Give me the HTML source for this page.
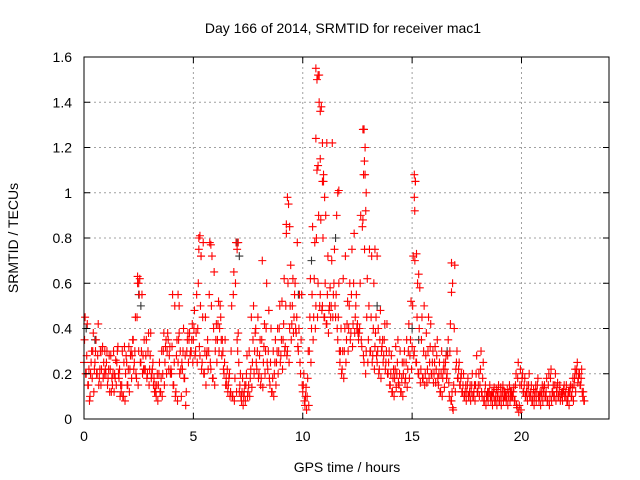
<!DOCTYPE html>
<html><head><meta charset="utf-8"><style>
html,body{margin:0;padding:0;background:#fff;}
svg{display:block;font-family:"Liberation Sans",sans-serif;}
</style></head><body>
<svg id="chart" width="640" height="480">
<text x="343" y="33" font-size="14" text-anchor="middle">Day 166 of 2014, SRMTID for receiver mac1</text>
<text x="347" y="472" font-size="14" text-anchor="middle">GPS time / hours</text>
<text transform="translate(18,238) rotate(-90)" font-size="14" text-anchor="middle">SRMTID / TECUs</text>
<g id="grid"></g><g id="marks"></g><g id="axes"></g>
</svg>
<script>
const xTicks=[0,5,10,15,20];
const yTicks=[0,0.2,0.4,0.6,0.8,1,1.2,1.4,1.6];
const yTickLabels=["0","0.2","0.4","0.6","0.8","1","1.2","1.4","1.6"];
const timeStep=0.1;
const seriesA=[0.25,0.2,0.15,0.2,0.3,0.25,0.2,0.18,0.22,0.25,
0.2,0.18,0.22,0.15,0.2,0.25,0.18,0.12,0.1,0.2,
0.15,0.22,0.28,0.25,0.18,0.3,0.25,0.28,0.22,0.2,
0.22,0.2,0.18,0.1,0.15,0.12,0.2,0.25,0.3,0.28,
0.2,0.15,0.12,0.25,0.3,0.22,0.18,0.3,0.35,0.3,
0.35,0.3,0.4,0.28,0.25,0.2,0.28,0.3,0.22,0.18,
0.3,0.35,0.4,0.28,0.2,0.18,0.15,0.12,0.1,0.18,
0.35,0.12,0.08,0.1,0.15,0.12,0.18,0.25,0.3,0.22,
0.2,0.18,0.25,0.3,0.22,0.15,0.12,0.2,0.25,0.3,
0.28,0.35,0.32,0.3,0.4,0.42,0.45,0.38,0.3,0.2,
0.12,0.06,0.1,0.3,0.4,0.45,0.5,0.6,0.55,0.5,
0.45,0.42,0.48,0.5,0.55,0.45,0.35,0.25,0.22,0.3,
0.35,0.4,0.38,0.42,0.45,0.42,0.4,0.32,0.25,0.3,
0.35,0.3,0.28,0.32,0.25,0.22,0.3,0.28,0.25,0.2,
0.15,0.12,0.18,0.2,0.15,0.12,0.2,0.18,0.22,0.28,
0.32,0.3,0.25,0.2,0.22,0.18,0.2,0.22,0.25,0.2,
0.2,0.22,0.15,0.12,0.18,0.22,0.2,0.1,0.08,0.15,
0.22,0.18,0.15,0.12,0.1,0.12,0.1,0.12,0.1,0.15,
0.12,0.15,0.1,0.08,0.1,0.12,0.08,0.1,0.08,0.1,
0.08,0.1,0.12,0.08,0.1,0.12,0.1,0.08,0.05,0.06,
0.15,0.12,0.1,0.12,0.1,0.08,0.1,0.12,0.08,0.1,
0.12,0.1,0.08,0.1,0.12,0.1,0.12,0.1,0.1,0.12,
0.1,0.08,0.12,0.1,0.15,0.2,0.18,0.15,0.1];
const seriesB=[0.45,0.42,0.08,0.3,0.12,0.35,0.42,0.3,0.32,0.3,
0.3,0.28,0.12,0.3,0.26,0.32,0.1,0.3,0.32,0.25,
0.32,0.3,0.35,0.45,0.6,0.62,0.55,0.35,0.35,0.38,
0.38,0.25,0.15,0.2,0.25,0.3,0.38,0.35,0.35,0.2,
0.55,0.5,0.35,0.38,0.1,0.4,0.06,0.38,0.28,0.42,
0.48,0.55,0.8,0.72,0.78,0.45,0.35,0.78,0.72,0.65,
0.42,0.52,0.45,0.3,0.35,0.22,0.2,0.5,0.65,0.78,
0.38,0.2,0.18,0.15,0.28,0.3,0.45,0.5,0.4,0.45,
0.35,0.7,0.42,0.6,0.48,0.4,0.3,0.35,0.4,0.5,
0.52,0.62,0.82,0.95,0.68,0.62,0.6,0.78,0.55,0.55,
0.2,0.14,0.3,0.62,0.85,0.78,1.1,1.52,1.38,1.05,
0.9,0.72,0.58,1.22,0.75,0.9,0.6,0.4,0.62,0.72,
0.52,0.6,0.75,0.82,0.55,0.35,0.9,1.28,1.08,0.62,
0.75,0.72,0.6,0.45,0.4,0.48,0.35,0.42,0.42,0.3,
0.28,0.22,0.32,0.35,0.3,0.25,0.3,0.35,0.42,0.52,
0.72,1.05,0.6,0.58,0.45,0.5,0.38,0.45,0.42,0.3,
0.32,0.35,0.25,0.3,0.25,0.28,0.35,0.42,0.05,0.68,
0.3,0.25,0.2,0.2,0.15,0.18,0.15,0.2,0.15,0.28,
0.2,0.3,0.25,0.15,0.12,0.15,0.12,0.14,0.13,0.15,
0.14,0.15,0.12,0.13,0.15,0.12,0.14,0.2,0.25,0.22,
0.2,0.18,0.15,0.2,0.15,0.13,0.15,0.18,0.12,0.15,
0.15,0.18,0.2,0.22,0.15,0.2,0.16,0.15,0.12,0.15,
0.15,0.12,0.15,0.18,0.22,0.25,0.2,0.22,0.08];
const seriesC=[0.35,0.28,0.22,0.25,0.38,0.3,0.28,0.22,0.3,0.2,
0.25,0.22,0.28,0.2,0.18,0.3,0.22,0.15,0.25,0.28,
0.22,0.28,0.35,0.3,0.45,0.55,0.3,0.22,0.28,0.3,
0.28,0.22,0.12,0.15,0.2,0.18,0.3,0.32,0.38,0.32,
0.32,0.25,0.28,0.35,0.22,0.3,0.28,0.35,0.38,0.35,
0.4,0.38,0.6,0.5,0.45,0.3,0.3,0.55,0.5,0.4,
0.35,0.42,0.5,0.35,0.25,0.15,0.18,0.3,0.55,0.6,
0.3,0.15,0.12,0.12,0.2,0.15,0.22,0.35,0.38,0.3,
0.28,0.35,0.32,0.4,0.3,0.25,0.18,0.25,0.3,0.4,
0.35,0.42,0.5,0.6,0.5,0.5,0.55,0.45,0.4,0.35,
0.15,0.1,0.18,0.45,0.55,0.62,0.8,0.9,0.88,0.8,
0.6,0.55,0.5,0.7,0.6,0.55,0.45,0.3,0.3,0.4,
0.42,0.5,0.55,0.6,0.5,0.38,0.6,0.85,0.75,0.45,
0.5,0.45,0.4,0.38,0.3,0.35,0.32,0.35,0.3,0.25,
0.2,0.18,0.22,0.25,0.2,0.18,0.25,0.25,0.3,0.35,
0.5,0.7,0.45,0.4,0.35,0.3,0.28,0.3,0.32,0.25,
0.25,0.28,0.2,0.2,0.22,0.25,0.28,0.3,0.12,0.4,
0.25,0.22,0.18,0.15,0.12,0.15,0.12,0.15,0.12,0.2,
0.15,0.22,0.18,0.12,0.1,0.12,0.1,0.12,0.1,0.12,
0.1,0.12,0.1,0.1,0.12,0.1,0.12,0.15,0.18,0.15,
0.18,0.15,0.12,0.15,0.12,0.1,0.12,0.15,0.1,0.12,
0.14,0.12,0.15,0.18,0.12,0.15,0.14,0.12,0.11,0.13,
0.12,0.1,0.14,0.14,0.18,0.22,0.2,0.18,0.12];
const seriesD=[0.2,0.15,0.1,0.18,0.22,0.2,0.15,0.15,0.18,0.22,
0.15,0.12,0.18,0.12,0.15,0.2,0.15,0.1,0.08,0.15,
0.12,0.18,0.22,0.2,0.15,0.25,0.2,0.22,0.18,0.15,
0.18,0.15,0.12,0.08,0.12,0.1,0.15,0.2,0.22,0.22,
0.15,0.1,0.08,0.2,0.25,0.18,0.12,0.25,0.3,0.25,
0.28,0.25,0.32,0.22,0.2,0.15,0.22,0.25,0.18,0.15,
0.25,0.3,0.35,0.22,0.15,0.12,0.1,0.1,0.08,0.12,
0.25,0.1,0.06,0.08,0.1,0.1,0.14,0.2,0.25,0.18,
0.15,0.14,0.2,0.25,0.18,0.12,0.1,0.15,0.2,0.25,
0.22,0.3,0.28,0.25,0.35,0.38,0.4,0.32,0.25,0.15,
0.08,0.04,0.06,0.25,0.35,0.4,0.45,0.5,0.48,0.45,
0.42,0.38,0.45,0.45,0.5,0.4,0.3,0.2,0.18,0.25,
0.3,0.35,0.32,0.38,0.4,0.38,0.35,0.28,0.2,0.25,
0.3,0.25,0.22,0.28,0.2,0.18,0.25,0.22,0.2,0.15,
0.12,0.1,0.14,0.16,0.12,0.1,0.16,0.14,0.18,0.22,
0.28,0.25,0.2,0.16,0.18,0.15,0.16,0.18,0.2,0.16,
0.16,0.18,0.12,0.1,0.14,0.18,0.16,0.08,0.04,0.12,
0.18,0.15,0.12,0.1,0.08,0.1,0.08,0.1,0.08,0.12,
0.1,0.12,0.08,0.06,0.08,0.1,0.06,0.08,0.06,0.08,
0.06,0.08,0.1,0.06,0.08,0.1,0.08,0.06,0.03,0.04,
0.12,0.1,0.08,0.1,0.08,0.06,0.08,0.1,0.06,0.08,
0.1,0.08,0.06,0.08,0.1,0.08,0.1,0.08,0.08,0.1,
0.08,0.06,0.1,0.08,0.12,0.16,0.15,0.12,0.08];
const spikeTimes=[10.6,10.65,10.7,10.75,10.8,10.6,10.9,10.8,10.7,11.1,10.95,10.9,11.0,11.6,11.65,12.8,12.85,12.82,12.78,12.9,12.88,12.75,15.1,15.15,15.1,15.12,9.3,9.25,9.4,5.3,5.25,5.35,5.8,7.05,7.0,2.45,2.5,4.3,4.35,13.3,13.4,15.2,15.3,16.8,16.85,16.8];
const spikeValues=[1.55,1.5,1.52,1.4,1.36,1.24,1.22,1.15,1.12,1.22,1.08,1.05,0.98,1.0,1.01,1.28,1.2,1.14,1.08,1.0,0.92,0.88,1.08,1.05,0.98,0.92,0.98,0.86,0.85,0.81,0.75,0.72,0.77,0.78,0.75,0.63,0.6,0.55,0.5,0.75,0.72,0.73,0.64,0.69,0.6,0.56];
const blackTimes=[0.1,0.5,2.5,2.6,7.0,7.1,9.8,10.4,11.5,12.8,13.4,15.0,15.3,16.6];
const blackValues=[0.4,0.35,0.55,0.5,0.78,0.72,0.55,0.7,0.8,1.28,0.5,0.4,0.35,0.3];
const X0=84,X1=609,Y0=419,Y1=57,XMAX=24,YMAX=1.6;
function xs(t){return X0+(X1-X0)*t/XMAX;}
function ys(v){return Y0-(Y0-Y1)*v/YMAX;}
const NS="http://www.w3.org/2000/svg";
function mk(tag,attrs,parent){const e=document.createElementNS(NS,tag);for(const k in attrs)e.setAttribute(k,attrs[k]);parent.appendChild(e);return e;}
const grid=document.getElementById('grid'),marks=document.getElementById('marks'),axes=document.getElementById('axes');
xTicks.forEach(t=>{
 if(t>0){const l=mk('line',{x1:xs(t),x2:xs(t),y1:Y1,y2:Y0,stroke:'#a0a0a0','stroke-dasharray':'2,3'},grid);
 
 }
 mk('line',{x1:xs(t),x2:xs(t),y1:Y0,y2:Y0-6,stroke:'#000'},axes);
 mk('line',{x1:xs(t),x2:xs(t),y1:Y1,y2:Y1+6,stroke:'#000'},axes);
 const tx=mk('text',{x:xs(t),y:Y0+22,'font-size':'14','text-anchor':'middle'},axes);tx.textContent=t;
 
 
});
yTicks.forEach((v,i)=>{
 if(v>0&&v<YMAX){const l=mk('line',{x1:X0,x2:X1,y1:ys(v),y2:ys(v),stroke:'#a0a0a0','stroke-dasharray':'2,3'},grid);
 
 }
 mk('line',{x1:X0,x2:X0+6,y1:ys(v),y2:ys(v),stroke:'#000'},axes);
 mk('line',{x1:X1,x2:X1-6,y1:ys(v),y2:ys(v),stroke:'#000'},axes);
 const tx=mk('text',{x:X0-12,y:ys(v)+5,'font-size':'14','text-anchor':'end'},axes);tx.textContent=yTickLabels[i];
 
 
});
const frame=mk('rect',{x:X0,y:Y1,width:X1-X0,height:Y0-Y1,fill:'none',stroke:'#000'},axes);


function plus(t,v,col){
 const x=xs(t),y=ys(v);
 const p=mk('path',{d:`M${x-4},${y}H${x+4}M${x},${y-4}V${y+4}`,stroke:col,'stroke-width':1.1,fill:'none'},marks);
 
 
}
blackTimes.forEach((t,i)=>plus(t,blackValues[i],'#333'));
seriesD.forEach((v,i)=>plus(i*timeStep+0.075,v,'#ff0000'));
seriesC.forEach((v,i)=>plus(i*timeStep+0.025,v,'#ff0000'));
seriesA.forEach((v,i)=>plus(i*timeStep,v,'#ff0000'));
seriesB.forEach((v,i)=>plus(i*timeStep+0.05,v,'#ff0000'));
spikeTimes.forEach((t,i)=>plus(t,spikeValues[i],'#ff0000'));
</script>
</body></html>
